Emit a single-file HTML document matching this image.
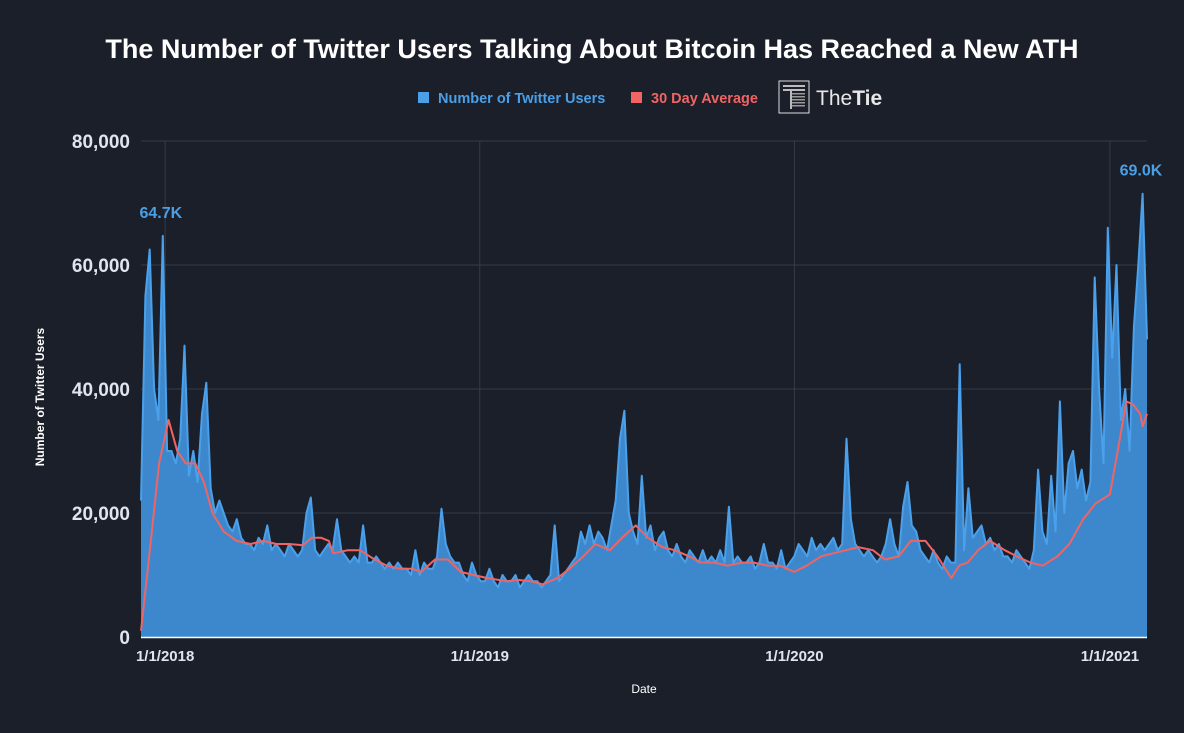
<!DOCTYPE html>
<html><head><meta charset="utf-8"><style>
html,body{margin:0;padding:0;background:#1b1f2a;}
body{width:1184px;height:733px;overflow:hidden;font-family:"Liberation Sans",sans-serif;}
</style></head><body>
<svg id="chart" width="1184" height="733" xmlns="http://www.w3.org/2000/svg" style="display:block">
<rect width="1184" height="733" fill="#1b1f2a"/>
<text x="592" y="58" text-anchor="middle" fill="#ffffff" font-size="27" font-weight="bold">The Number of Twitter Users Talking About Bitcoin Has Reached a New ATH</text>
<g>
<rect x="418" y="92" width="11" height="11" fill="#4a9fe6"/>
<text x="438" y="103" fill="#4a9fe6" font-size="14.5" font-weight="bold">Number of Twitter Users</text>
<rect x="631" y="92" width="11" height="11" fill="#f06464"/>
<text x="651" y="103" fill="#f06464" font-size="14.5" font-weight="bold">30 Day Average</text>
<g>
<rect x="779" y="81" width="30" height="32" fill="none" stroke="#ddd" stroke-width="1"/>
<rect x="783" y="85" width="22" height="2" fill="#bbb"/><rect x="783" y="89" width="22" height="2" fill="#bbb"/>
<rect x="792" y="93" width="13" height="1.5" fill="#999"/><rect x="792" y="96" width="13" height="1.5" fill="#999"/>
<rect x="792" y="99" width="13" height="1.5" fill="#999"/><rect x="792" y="102" width="13" height="1.5" fill="#999"/>
<rect x="792" y="105" width="13" height="1.5" fill="#999"/><rect x="790" y="89" width="2" height="20" fill="#bbb"/>
<text x="816" y="105" fill="#e8e8e8" font-size="21">The<tspan font-weight="bold">Tie</tspan></text>
</g>
</g>
<g id="grid"></g>
<g id="marks"></g>
<g id="axes"></g>
<text transform="translate(44,397) rotate(-90)" text-anchor="middle" fill="#ffffff" font-size="12" font-weight="bold">Number of Twitter Users</text>
<text x="644" y="693" text-anchor="middle" fill="#ffffff" font-size="12">Date</text>
</svg>
<script>
const startDate = "2017-12-04";
const endDate = "2021-02-13";
const userValues = [
22,55,62.5,40,35,64.7,30,
30,28,32,47,26,30,
25,36,41,24,20,22,
20,18,17,19,16,15,
15,14,16,15,18,14,
15,14,13,15,14,13,
14,20,22.5,14,13,14,
15,14,19,14,13,12,
13,12,18,12,12,13,
12,11,12,11,12,11,
11,10,14,10,12,11,
11,13,20.7,15,13,12,
12,10,9,12,10,9,
9,11,9,8,10,9,
9,10,8,9,10,9,
9,8,9,10,18,9,
10,11,12,13,17,15,
18,15,17,16,14,18,
22,32,36.5,20,17,15,
26,16,18,14,16,17,
14,13,15,13,12,14,
13,12,14,12,13,12,
14,12,21,12,13,12,
12,13,11,12,15,12,
12,11,14,11,12,13,
15,14,13,16,14,15,
14,15,16,14,15,32,
19,15,14,13,14,13,
12,13,15,19,15,13,
21,25,18,17,14,13,
12,14,12,11,13,12,
12,44,14,24,16,17,
18,15,16,14,15,13,
13,12,14,13,12,11,
14,27,17,15,26,17,
38,20,28,30,24,27,
22,25,58,40,28,66,
45,60,35,40,30,50,
60,71.5,48
];
const avgDates = ["2017-12-04","2017-12-15","2017-12-25","2018-01-05","2018-01-15","2018-01-25","2018-02-05","2018-02-15","2018-02-25","2018-03-10","2018-03-25","2018-04-10","2018-04-25","2018-05-10","2018-05-25","2018-06-10","2018-06-20","2018-07-01","2018-07-10","2018-07-15","2018-08-01","2018-08-15","2018-09-01","2018-09-15","2018-10-01","2018-10-15","2018-10-25","2018-11-10","2018-11-25","2018-12-10","2018-12-25","2019-01-10","2019-02-01","2019-02-15","2019-03-01","2019-03-15","2019-04-01","2019-04-15","2019-05-01","2019-05-15","2019-06-01","2019-06-15","2019-07-01","2019-07-15","2019-08-01","2019-08-15","2019-09-01","2019-09-15","2019-10-01","2019-10-15","2019-11-01","2019-11-15","2019-12-01","2019-12-15","2020-01-01","2020-01-15","2020-02-01","2020-02-15","2020-03-01","2020-03-15","2020-04-01","2020-04-15","2020-05-01","2020-05-15","2020-06-01","2020-06-15","2020-07-01","2020-07-10","2020-07-20","2020-08-01","2020-08-15","2020-09-01","2020-09-15","2020-10-01","2020-10-15","2020-11-01","2020-11-15","2020-12-01","2020-12-15","2021-01-01","2021-01-10","2021-01-20","2021-01-28","2021-02-05","2021-02-08","2021-02-13"];
const avgValues = [1,15,28,35,30,28,28,25,20,17,15.5,15,15.5,15,15,14.8,16,16,15.5,13.5,14,14,12.5,11.5,11,11,10.5,12.5,12.5,10.5,10,9.5,9,9.2,9,8.5,9.5,11,13,15,14,16,18,16,14.5,14,13,12,12,11.5,12,12,11.5,11.5,10.5,11.5,13,13.5,14,14.5,14,12.5,13,15.5,15.5,13,9.5,11.5,12,14,15.5,14,13,12,11.5,13,15,19,21.5,23,30,38,37.5,36,34,36];
const yTicks = [0,20000,40000,60000,80000];
const yTickLabels = ["0","20,000","40,000","60,000","80,000"];
const xTickDates = ["2018-01-01","2019-01-01","2020-01-01","2021-01-01"];
const xTickLabels = ["1/1/2018","1/1/2019","1/1/2020","1/1/2021"];
const annotations = [{date:"2017-12-27",value:64.7,label:"64.7K"},{date:"2021-02-06",value:71.5,label:"69.0K"}];

const NS="http://www.w3.org/2000/svg";
const L=141,R=1147,T=141,B=637;
const t0=Date.parse(startDate), t1=Date.parse(endDate);
const xOfTime=t=>L+(t-t0)/(t1-t0)*(R-L);
const xOfDate=d=>xOfTime(Date.parse(d));
const yOf=v=>B-v/80000*(B-T);
function mk(tag,attrs,parent){const e=document.createElementNS(NS,tag);for(const k in attrs)e.setAttribute(k,attrs[k]);parent.appendChild(e);return e;}
const grid=document.getElementById('grid'),marks=document.getElementById('marks'),axes=document.getElementById('axes');
yTicks.forEach((v,i)=>{
  if(v>0){const g=mk('line',{x1:L,x2:R,y1:yOf(v),y2:yOf(v),stroke:'#363b49','stroke-width':1},grid);
  
  }
  const t=mk('text',{x:130,y:yOf(v)+7,'text-anchor':'end',fill:'#dfe4ee','font-size':19,'font-weight':'bold'},axes);
  t.textContent=yTickLabels[i];
  
  
});
xTickDates.forEach((d,i)=>{
  const x=xOfDate(d);
  const g=mk('line',{x1:x,x2:x,y1:T,y2:B,stroke:'#363b49','stroke-width':1},grid);
  
  
  const t=mk('text',{x:x,y:661,'text-anchor':'middle',fill:'#dfe4ee','font-size':15,'font-weight':'bold'},axes);
  t.textContent=xTickLabels[i];
  
  
});
const n=userValues.length;
const pts=userValues.map((v,i)=>[xOfTime(t0+(t1-t0)*i/(n-1)),yOf(v*1000)]);
let dArea='M'+L+','+B+' '+pts.map(p=>'L'+p[0].toFixed(1)+','+p[1].toFixed(1)).join(' ')+' L'+R+','+B+' Z';
const area=mk('path',{d:dArea,fill:'#3d88cc'},marks);


const line=mk('path',{d:'M'+pts.map(p=>p[0].toFixed(1)+','+p[1].toFixed(1)).join(' L'),fill:'none',stroke:'#4aa0ea','stroke-width':2,'stroke-linejoin':'round'},marks);


const avg=mk('path',{d:'M'+avgDates.map((d,i)=>xOfDate(d).toFixed(1)+','+yOf(avgValues[i]*1000).toFixed(1)).join(' L'),fill:'none',stroke:'#f06464','stroke-width':2,'stroke-linejoin':'round'},marks);


annotations.forEach(a=>{
  const t=mk('text',{x:xOfDate(a.date),y:yOf(a.value*1000)-18,'text-anchor':'middle',fill:'#4a9fe6','font-size':16,'font-weight':'bold'},marks);
  t.textContent=a.label;
  
  
});
const ax=mk('line',{x1:L,x2:R,y1:B+0.5,y2:B+0.5,stroke:'#ffffff','stroke-width':1.5},axes);


</script>
</body></html>
